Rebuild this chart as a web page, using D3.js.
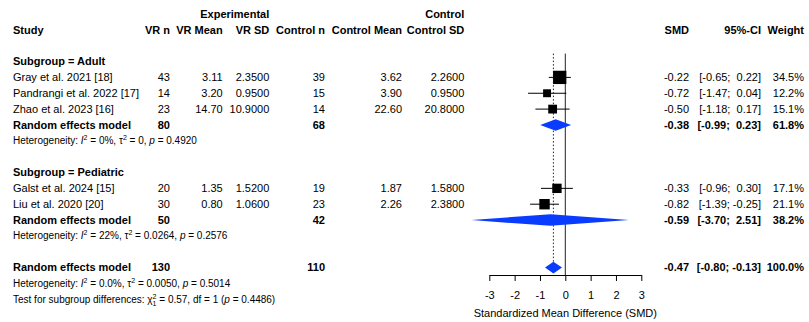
<!DOCTYPE html>
<html>
<head>
<meta charset="utf-8">
<script src="https://cdn.jsdelivr.net/npm/d3@7"></script>
<style>
  html, body { margin: 0; padding: 0; background: #fff; }
  svg text { font-family: "Liberation Sans", Arial, Helvetica, sans-serif; fill: #000; white-space: pre; }
</style>
</head>
<body>
<svg id="chart" width="809" height="322"></svg>
<script>
// ---------------- data ----------------
const studies   = ["Gray et al. 2021 [18]", "Pandrangi et al. 2022 [17]", "Zhao et al. 2023 [16]", "Galst et al. 2024 [15]", "Liu et al. 2020 [20]"];
const subgroup  = ["Adult", "Adult", "Adult", "Pediatric", "Pediatric"];
const vrN       = [43, 14, 23, 20, 30];
const vrMean    = [3.11, 3.20, 14.70, 1.35, 0.80];
const vrSD      = [2.35, 0.95, 10.90, 1.52, 1.06];
const ctlN      = [39, 15, 14, 19, 23];
const ctlMean   = [3.62, 3.90, 22.60, 1.87, 2.26];
const ctlSD     = [2.26, 0.95, 20.80, 1.58, 2.38];
const smd       = [-0.22, -0.72, -0.50, -0.33, -0.82];
const lower     = [-0.65, -1.47, -1.18, -0.96, -1.39];
const upper     = [0.22, 0.04, 0.17, 0.30, -0.25];
const weight    = [34.5, 12.2, 15.1, 17.1, 21.1];

const groups      = ["Adult", "Pediatric"];
const groupVrN    = [80, 50];
const groupCtlN   = [68, 42];
const groupSMD    = [-0.38, -0.59];
const groupLower  = [-0.99, -3.70];
const groupUpper  = [0.23, 2.51];
const groupWeight = [61.8, 38.2];
const groupI2     = ["0%", "22%"];
const groupTau2   = ["0", "0.0264"];
const groupP      = ["0.4920", "0.2576"];

const overall = { vrN: 130, ctlN: 110, smd: -0.47, lower: -0.80, upper: -0.13, weight: 100.0,
                  i2: "0.0%", tau2: "0.0050", p: "0.5014" };
const subgroupTest = { chi2: "0.57", df: "1", p: "0.4486" };

const xTicks = [-3, -2, -1, 0, 1, 2, 3];
const axisTitle = "Standardized Mean Difference (SMD)";

// ---------------- layout ----------------
const svg = d3.select("#chart");
const FS = 11, FS_SMALL = 10;
const rowY = d3.scaleLinear().domain([0, 1]).range([14, 29.85]);
const x = d3.scaleLinear().domain([-3, 3]).range([489.3, 641.3]);
const col = { study: 13, vrN: 170, vrMean: 222.7, vrSD: 269.3, ctlN: 325, ctlMean: 402, ctlSD: 464.3,
              smd: 689, ci: 761, weight: 804 };
const sqK = 2.265;
const dH = 5.8;

const fmt2 = d3.format(".2f"), fmt4 = d3.format(".4f"), fmt1 = d3.format(".1f");
const hy = s => s.replace("\u2212", "-");
const f2 = v => hy(fmt2(v));
const pad = v => (v < 0 ? "" : " ") + f2(v);

function txt(xp, row, s, anchor, bold, size) {
  return svg.append("text")
    .attr("x", xp).attr("y", rowY(row)).attr("dy", "0.35em")
    .attr("text-anchor", anchor || "start")
    .attr("font-size", size || FS)
    .attr("font-weight", bold ? "bold" : "normal")
    .text(s);
}

function rich(xp, row, segs, size) {
  const t = svg.append("text").attr("x", xp).attr("y", rowY(row)).attr("dy", "0.35em")
    .attr("font-size", size);
  segs.forEach(sg => {
    const ts = t.append("tspan").text(sg.t);
    if (sg.italic) ts.attr("font-style", "italic");
    if (sg.size) ts.attr("font-size", sg.size);
    if (sg.dy) ts.attr("dy", sg.dy);
    if (sg.dx) ts.attr("dx", sg.dx);
  });
  return t;
}

function hetLine(row, i2, tau2, p) {
  rich(col.study, row, [
    { t: "Heterogeneity: " }, { t: "I", italic: true },
    { t: "2", size: 7, dy: -4 }, { t: " = " + i2 + ", ", dy: 4 },
    { t: "\u03C4" }, { t: "2", size: 7, dy: -4 }, { t: " = " + tau2 + ", ", dy: 4 },
    { t: "p", italic: true }, { t: " = " + p }
  ], FS_SMALL);
}

function ciText(row, lo, hi, bold) {
  txt(col.ci, row, "[" + pad(lo) + "; " + pad(hi) + "]", "end", bold);
}

// header
txt(col.vrSD, 0, "Experimental", "end", true);
txt(col.ctlSD, 0, "Control", "end", true);
txt(col.study, 1, "Study", "start", true);
txt(col.vrN, 1, "VR n", "end", true);
txt(col.vrMean, 1, "VR Mean", "end", true);
txt(col.vrSD, 1, "VR SD", "end", true);
txt(col.ctlN, 1, "Control n", "end", true);
txt(col.ctlMean, 1, "Control Mean", "end", true);
txt(col.ctlSD, 1, "Control SD", "end", true);
txt(col.smd, 1, "SMD", "end", true);
txt(col.ci, 1, "95%-CI", "end", true);
txt(col.weight, 1, "Weight", "end", true);

// reference lines (drawn before marks)
const lineTop = rowY(2.5);
const axisY = 275;
const overallRow = 16;
svg.append("line").attr("x1", x(0)).attr("x2", x(0)).attr("y1", lineTop).attr("y2", axisY)
  .attr("stroke", "#222").attr("stroke-width", 1);
svg.append("line").attr("x1", x(overall.smd)).attr("x2", x(overall.smd))
  .attr("y1", lineTop).attr("y2", rowY(overallRow) - dH)
  .attr("stroke", "#222").attr("stroke-width", 1).attr("stroke-dasharray", "1.5,2");

function diamond(row, est, lo, hi) {
  const y = rowY(row);
  svg.append("path")
    .attr("d", `M${x(lo)},${y} L${x(est)},${y - dH} L${x(hi)},${y} L${x(est)},${y + dH} Z`)
    .attr("fill", "#0a3cff").attr("stroke", "none");
}

let row = 2;
groups.forEach((g, gi) => {
  row += 1;
  txt(col.study, row, "Subgroup = " + g, "start", true);
  studies.forEach((s, i) => {
    if (subgroup[i] !== g) return;
    row += 1;
    txt(col.study, row, s);
    txt(col.vrN, row, String(vrN[i]), "end");
    txt(col.vrMean, row, fmt2(vrMean[i]), "end");
    txt(col.vrSD, row, fmt4(vrSD[i]), "end");
    txt(col.ctlN, row, String(ctlN[i]), "end");
    txt(col.ctlMean, row, fmt2(ctlMean[i]), "end");
    txt(col.ctlSD, row, fmt4(ctlSD[i]), "end");
    txt(col.smd, row, f2(smd[i]), "end");
    ciText(row, lower[i], upper[i], false);
    txt(col.weight, row, fmt1(weight[i]) + "%", "end");
    const y = rowY(row);
    svg.append("line").attr("x1", x(lower[i])).attr("x2", x(upper[i]))
      .attr("y1", y).attr("y2", y).attr("stroke", "#000").attr("stroke-width", 1);
    const side = sqK * Math.sqrt(weight[i]);
    svg.append("rect").attr("x", x(smd[i]) - side / 2).attr("y", y - side / 2)
      .attr("width", side).attr("height", side).attr("fill", "#000");
  });
  row += 1;
  txt(col.study, row, "Random effects model", "start", true);
  txt(col.vrN, row, String(groupVrN[gi]), "end", true);
  txt(col.ctlN, row, String(groupCtlN[gi]), "end", true);
  txt(col.smd, row, f2(groupSMD[gi]), "end", true);
  ciText(row, groupLower[gi], groupUpper[gi], true);
  txt(col.weight, row, fmt1(groupWeight[gi]) + "%", "end", true);
  diamond(row, groupSMD[gi], groupLower[gi], groupUpper[gi]);
  row += 1;
  hetLine(row, groupI2[gi], groupTau2[gi], groupP[gi]);
  row += 1;
});

// overall
row += 1;
txt(col.study, row, "Random effects model", "start", true);
txt(col.vrN, row, String(overall.vrN), "end", true);
txt(col.ctlN, row, String(overall.ctlN), "end", true);
txt(col.smd, row, f2(overall.smd), "end", true);
ciText(row, overall.lower, overall.upper, true);
txt(col.weight, row, fmt1(overall.weight) + "%", "end", true);
diamond(row, overall.smd, overall.lower, overall.upper);
row += 1;
hetLine(row, overall.i2, overall.tau2, overall.p);
row += 1;
rich(col.study, row, [
  { t: "Test for subgroup differences: " }, { t: "\u03C7" },
  { t: "2", size: 7, dy: -4 },
  { t: subgroupTest.df, size: 7, dx: -3.9, dy: 7.5 },
  { t: " = " + subgroupTest.chi2 + ", df = " + subgroupTest.df + " (", dy: -3.5 },
  { t: "p", italic: true }, { t: " = " + subgroupTest.p + ")" }
], FS_SMALL);

// axis
const axis = d3.axisBottom(x).tickValues(xTicks).tickSize(6).tickSizeOuter(0).tickPadding(10)
  .tickFormat(d => String(d));
const ag = svg.append("g").attr("transform", `translate(0,${axisY})`).call(axis);
ag.selectAll("path, line").attr("stroke", "#000");
ag.selectAll("text").attr("font-size", FS).attr("fill", "#000")
  .attr("font-family", '"Liberation Sans", Arial, sans-serif');
svg.append("text").attr("x", x(0)).attr("y", 313).attr("dy", "0.35em")
  .attr("text-anchor", "middle").attr("font-size", FS).text(axisTitle);
</script>
</body>
</html>
